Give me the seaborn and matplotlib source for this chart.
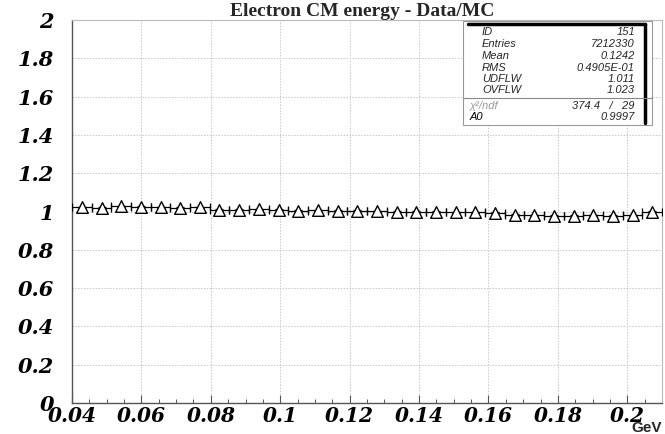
import numpy as np
import pandas as pd
import matplotlib
matplotlib.use("Agg")
import matplotlib.pyplot as plt
from matplotlib.patches import Rectangle
from matplotlib.lines import Line2D
from matplotlib.ticker import MultipleLocator
import seaborn as sns

# Histogram binning (GeV) and Data/MC ratio per bin
bin_low = 0.04
bin_high = 0.21
n_bins = 30
ratio = [1.022, 1.018, 1.028, 1.024, 1.022, 1.020, 1.022,
         1.008, 1.010, 1.012, 1.010, 1.004, 1.006, 1.004, 1.004,
         1.002, 1.000, 1.000, 0.998, 0.996, 0.996, 0.994,
         0.982, 0.980, 0.978, 0.978, 0.980, 0.978, 0.980, 0.998]
ratio_err = [0.003] * n_bins

title = "Electron CM energy - Data/MC"
x_unit = "GeV"
stat_names = ["ID", "Entries", "Mean", "RMS", "UDFLW", "OVFLW"]
stat_values = ["151", "7212330", "0.1242", "0.4905E-01", "1.011", "1.023"]
fit_names = ["χ²/ndf", "A0"]
fit_values = ["374.4   /   29", "0.9997"]

edges = np.linspace(bin_low, bin_high, n_bins + 1)
centers = 0.5 * (edges[:-1] + edges[1:])
half_width = 0.5 * (edges[1] - edges[0])
df = pd.DataFrame({"E": centers, "ratio": ratio, "err": ratio_err})

sns.set_theme(style="white")
serif_bi = dict(family=["DejaVu Serif"], weight="bold", style="italic")
sans_i = dict(family=["Liberation Sans", "DejaVu Sans"], style="italic")

W, H = 665, 434
fig = plt.figure(figsize=(W / 100, H / 100), dpi=100)
ax = fig.add_axes([72 / W, 1 - 403 / H, (662 - 72) / W, (403 - 20) / H])

# bin-width error bars: horizontal bars with end caps at the bin edges
ax.errorbar(df["E"], df["ratio"], xerr=half_width, yerr=df["err"], fmt="none",
            ecolor="black", elinewidth=0.9, capsize=3, capthick=0.9, zorder=3)
sns.scatterplot(data=df, x="E", y="ratio", marker="^", s=70, facecolor="white",
                edgecolor="black", linewidth=1.0, ax=ax, zorder=4, legend=False)

ax.set_xlim(bin_low, bin_high)
ax.set_ylim(0, 2)
ax.xaxis.set_minor_locator(MultipleLocator(0.005))
ax.set_xlabel("")
ax.set_ylabel("")
ax.grid(True, which="major", color="#c8c8c8", linestyle=(0, (1.5, 1.5)), linewidth=0.7)
ax.tick_params(axis="x", which="major", direction="in", length=6, width=0.8,
               colors="#555555", pad=2, top=False, bottom=True)
ax.tick_params(axis="x", which="minor", direction="in", length=3, width=0.7,
               colors="#555555", top=False, bottom=True)
ax.tick_params(axis="y", which="both", length=0, pad=13, left=False, right=False)

xt = np.arange(0.04, 0.2001, 0.02)
ax.set_xticks(xt)
ax.set_xticklabels([f"{v:g}" for v in xt], fontsize=14.5, color="black", **serif_bi)
yt = np.arange(0, 2.001, 0.2)
ax.set_yticks(yt)
ax.set_yticklabels([f"{v:g}" for v in yt], fontsize=15, color="black", **serif_bi)

for side in ["left", "bottom"]:
    ax.spines[side].set_color("#555555")
    ax.spines[side].set_linewidth(1.0)
for side in ["top", "right"]:
    ax.spines[side].set_color("#bbbbbb")
    ax.spines[side].set_linewidth(0.8)

fig.text(362 / W, 1 - 11 / H, title, ha="center", va="center", fontsize=14,
         family=["Liberation Serif", "DejaVu Serif"], weight="bold")
fig.text(662 / W, 1 - 428 / H, x_unit, ha="right", va="center", fontsize=11,
         family=["Liberation Sans", "DejaVu Sans"], weight="bold")

# statistics box
def fx(px):
    return px / W

def fy(py):
    return 1 - py / H

box_l, box_r, box_t, box_b = 463, 652, 21, 125
fig.patches.append(Rectangle((fx(box_l), fy(box_b)), fx(box_r) - fx(box_l),
                             fy(box_t) - fy(box_b), transform=fig.transFigure,
                             facecolor="white", edgecolor="#999999", linewidth=0.8,
                             zorder=10))
fig.lines.append(Line2D([fx(468), fx(645)], [fy(24), fy(24)], transform=fig.transFigure,
                        color="black", linewidth=2.5, zorder=11))
fig.lines.append(Line2D([fx(645), fx(645)], [fy(24), fy(123)], transform=fig.transFigure,
                        color="black", linewidth=2.5, zorder=11))
fig.lines.append(Line2D([fx(box_l), fx(box_r)], [fy(98), fy(98)], transform=fig.transFigure,
                        color="#888888", linewidth=0.8, zorder=11))

row_y = [32, 44, 56, 68, 79, 90]
for name, val, y in zip(stat_names, stat_values, row_y):
    fig.text(fx(482), fy(y), name, ha="left", va="center", fontsize=8,
             zorder=12, **sans_i)
    fig.text(fx(635), fy(y), val, ha="right", va="center", fontsize=8,
             zorder=12, **sans_i)
fit_y = [106, 117]
fit_colors = ["#999999", "black"]
for name, val, y, c in zip(fit_names, fit_values, fit_y, fit_colors):
    fig.text(fx(470), fy(y), name, ha="left", va="center", fontsize=8,
             color=c, zorder=12, **sans_i)
    fig.text(fx(635), fy(y), val, ha="right", va="center", fontsize=8,
             zorder=12, **sans_i)

fig.savefig("out.png", dpi=100, facecolor="white")
